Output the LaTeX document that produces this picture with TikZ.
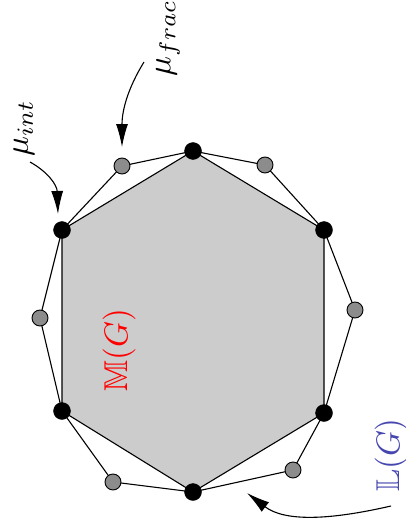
\documentclass[tikz,border=0pt]{standalone}
\usepackage{amssymb}
\usetikzlibrary{arrows.meta}
\definecolor{lgblue}{RGB}{70,70,175}
\tikzset{
  blackv/.style={circle,fill=black,draw=black,inner sep=0pt,minimum size=17pt},
  grayv/.style={circle,fill=gray!90,draw=black,line width=0.9pt,inner sep=0pt,minimum size=16pt},
  edge/.style={line width=1.1pt},
  pointer/.style={line width=1.1pt,-{Latex[length=23pt,width=12pt]}},
  lbl/.style={rotate=90,scale=3.3,inner sep=0pt}
}
\begin{document}
\begin{tikzpicture}[x=1pt,y=-1pt]
\useasboundingbox (0,0) rectangle (405,532);
% coordinates
\coordinate (t) at (193,151);
\coordinate (ul) at (62,230);
\coordinate (ur) at (324,230);
\coordinate (ll) at (62,411);
\coordinate (lr) at (324,413);
\coordinate (b) at (193,492);
\coordinate (g1) at (122,166);
\coordinate (g2) at (265,165);
\coordinate (g3) at (355,310);
\coordinate (g4) at (293,470);
\coordinate (g5) at (113,482);
\coordinate (g6) at (40,318);
% hexagon
\fill[gray!40] (t) -- (ur) -- (lr) -- (b) -- (ll) -- (ul) -- cycle;
\draw[edge] (t) -- (ur) -- (lr) -- (b) -- (ll) -- (ul) -- cycle;
% outer polygon
\draw[edge] (t) -- (g2) -- (ur) -- (g3) -- (lr) -- (g4) -- (b) -- (g5) -- (ll) -- (g6) -- (ul) -- (g1) -- cycle;
% vertices
\foreach \p in {t,ul,ur,ll,lr,b} \node[blackv] (v\p) at (\p) {};
\foreach \p in {g1,g2,g3,g4,g5,g6} \node[grayv] (v\p) at (\p) {};
% labels
\node[lbl,text=red] (mg) at (119,350) {$\mathbb{M}(G)$};
\node[lbl,text=lgblue] (lg) at (391,455) {$\mathbb{L}(G)$};
\node[lbl] (mint) at (24,128) {$\mu_{int}$};
\node[lbl] (mfrac) at (168,38) {$\mu_{frac}$};
% pointers
\coordinate (s1) at (30,162);
\coordinate (s2) at (144,62);
\coordinate (s3) at (391,506);
\coordinate (e1) at (58,214);
\coordinate (e2) at (122,147);
\coordinate (e3) at (247,493);
\draw[pointer] (s1) .. controls (48,172) and (57,185) .. (e1);
\draw[pointer] (s2) .. controls (128,88) and (122,110) .. (e2);
\draw[pointer] (s3) .. controls (330,520) and (285,522) .. (e3);
\end{tikzpicture}
\end{document}
